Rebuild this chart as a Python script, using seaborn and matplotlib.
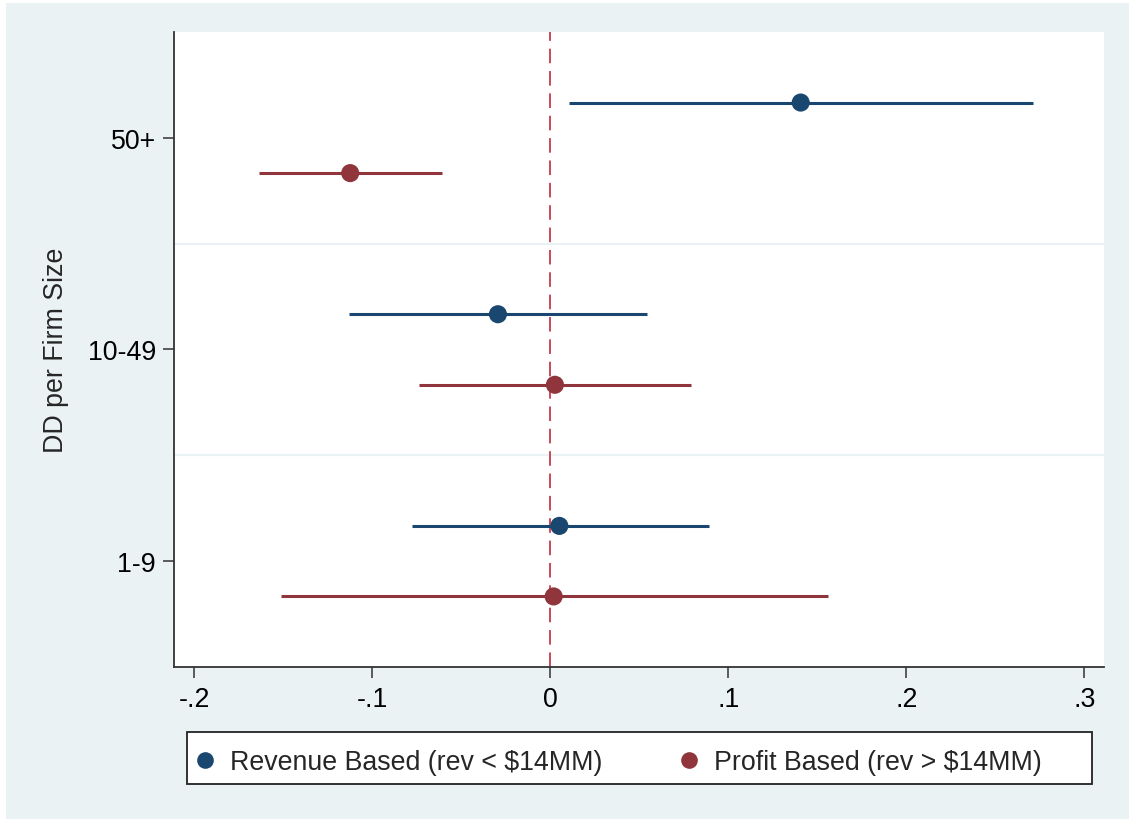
import numpy as np
import pandas as pd
import matplotlib
matplotlib.use("Agg")
import matplotlib.pyplot as plt
from matplotlib.patches import Rectangle
import seaborn as sns

# Firm-size groups (top to bottom) and DD estimates with 95% CIs
sizes = ["50+", "10-49", "1-9"]
groups = ["Revenue Based (rev < $14MM)", "Profit Based (rev > $14MM)"]

rev_coef = [0.1406, -0.0295, 0.0050]
rev_lo = [0.0102, -0.1130, -0.0780]
rev_hi = [0.2710, 0.0540, 0.0890]

prof_coef = [-0.1125, 0.0025, 0.0018]
prof_lo = [-0.1640, -0.0740, -0.1515]
prof_hi = [-0.0610, 0.0790, 0.1560]

navy = "#1a476f"
maroon = "#90353b"
bg = "#eaf2f3"
FS = 19.3

sns.set_theme(style="white")
plt.rcParams["font.family"] = ["Liberation Sans", "DejaVu Sans"]

# Long-format table: category base position plus a small vertical offset per group
base = {s: len(sizes) - i for i, s in enumerate(sizes)}
offset = {groups[0]: 1 / 6, groups[1]: -1 / 6}
rows = []
for s, c, lo, hi in zip(sizes, rev_coef, rev_lo, rev_hi):
    rows.append(dict(size=s, group=groups[0], coef=c, lo=lo, hi=hi))
for s, c, lo, hi in zip(sizes, prof_coef, prof_lo, prof_hi):
    rows.append(dict(size=s, group=groups[1], coef=c, lo=lo, hi=hi))
df = pd.DataFrame(rows)
df["ypos"] = df["size"].map(base) + df["group"].map(offset)

fig = plt.figure(figsize=(11.29, 8.20), dpi=100, facecolor="white")
fig.patches.append(Rectangle((6 / 1129, 0), 1 - 6 / 1129, 1 - 4 / 820,
                             transform=fig.transFigure, facecolor=bg,
                             edgecolor="none", zorder=-10))

ax = fig.add_axes([174 / 1129, 1 - 668 / 820, 930 / 1129, 635 / 820])
ax.set_facecolor("white")

palette = {groups[0]: navy, groups[1]: maroon}

# Separators between size groups
for yv in (1.5, 2.5):
    ax.axhline(yv, color=bg, lw=1.6, zorder=0)

# Zero reference line
ax.axvline(0, color="#c94a5a", lw=1.4, dashes=(7.5, 4.0), zorder=1)

# Confidence intervals
for g in groups:
    sub = df[df["group"] == g]
    ax.hlines(sub["ypos"], sub["lo"], sub["hi"], color=palette[g], lw=2.2, zorder=2)

sns.scatterplot(data=df, x="coef", y="ypos", hue="group", palette=palette,
                s=170, edgecolor="none", linewidth=0, ax=ax, zorder=3, legend=False)

ax.set_xlim(-0.2115, 0.311)
ax.set_ylim(0.5, 3.5)
ax.set_xticks([-0.2, -0.1, 0, 0.1, 0.2, 0.3])
ax.set_xticklabels(["-.2", "-.1", "0", ".1", ".2", ".3"])
ax.set_yticks([base[s] for s in sizes])
ax.set_yticklabels(sizes)
ax.set_xlabel("")
ax.set_ylabel("DD per Firm Size", fontsize=FS, labelpad=13.5)

for side in ("top", "right"):
    ax.spines[side].set_visible(False)
for side in ("left", "bottom"):
    ax.spines[side].set_color("#333333")
    ax.spines[side].set_linewidth(1.3)
ax.tick_params(axis="both", which="major", direction="out", length=8, width=1.1,
               color="#333333", labelsize=FS, labelcolor="black",
               left=True, bottom=True)
ax.tick_params(axis="y", pad=5)
ax.tick_params(axis="x", pad=6)

# Legend in a boxed strip below the plot
fig.patches.append(Rectangle((187 / 1129, 1 - 785 / 820), 905 / 1129, 52 / 820,
                             transform=fig.transFigure, facecolor="white",
                             edgecolor="#222222", lw=1.3, zorder=1))
handles = [plt.Line2D([], [], ls="none", marker="o", ms=12, mfc=palette[g],
                      mec="none") for g in groups]
leg = fig.legend(handles, groups, loc="center left",
                 bbox_to_anchor=(191.6 / 1129, 1 - 763 / 820), ncol=2,
                 frameon=False, fontsize=FS, handlelength=1.0,
                 handletextpad=0.43, columnspacing=2.75, borderpad=0,
                 borderaxespad=0)
leg.set_zorder(2)

fig.savefig("out.png", dpi=100, facecolor=fig.get_facecolor())
